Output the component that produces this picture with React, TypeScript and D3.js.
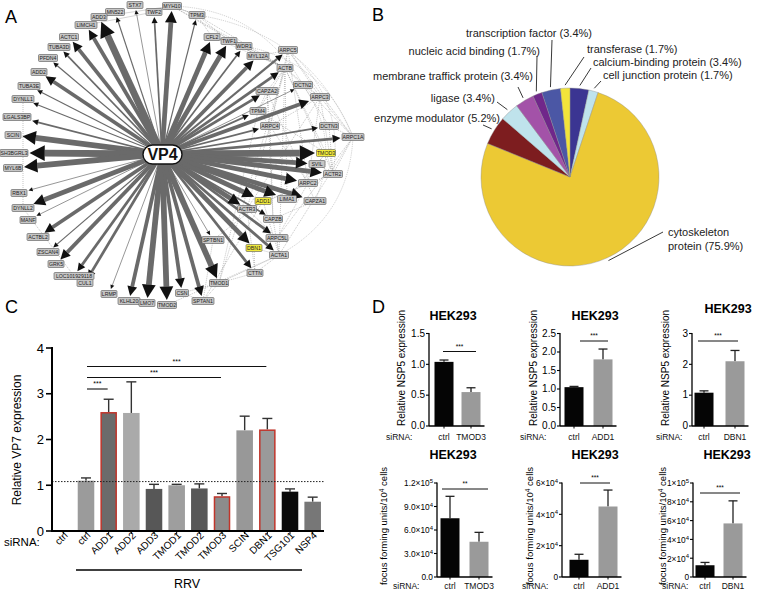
import React from 'react';
import * as d3 from 'd3';

const FONT = "'Liberation Sans', Arial, Helvetica, sans-serif";

// ---------- Panel A: VP4 interaction network ----------
const NODE_NAMES = ["MYH10","STX7","TWF2","MN522","ADD3","LIMCH1","TPM3","ACTC1","CFL2","TWF1","WDR1","TUBA3D","MYL12A","ARPC5","PFDN4","ACTB","ADD2","DCTN2","CAPZA2","TUBA3E","ARPC3","DYNLL1","TPM4","LGALS3BP","ARPC4","DCTN3","SCIN","ARPC1A","SH3BGRL3","TMOD3","MYL6B","SVIL","ACTR2","ARPC2","RBX1","LIMA1","CAPZA1","ADD1","DYNLL2","ACTR3","MANF","CAPZB","ACTBL2","ARPC5L","SPTBN1","DBN1","ZSCAN4","ACTA1","GRK5","CTTN","LOC101929118","CUL1","TMOD1","LRMP","KLHL20","LMO7","TMOD2","CSN","SPTAN1"];
// interaction strength with VP4 (arrow weight)
const EDGE_WEIGHTS = [5,1,2,1.5,7,4,1.5,4,5,5,2,2,4,2.5,1.5,3,4,1,3,1.5,4,1.5,2,2,2,2,6,3,7,7,6,5,5,5,1,5,5,5,5,5,1,2,4,3,1,5,1.5,3,4,3,3,3,6,1,4,6,6,4,4];
const HIGHLIGHTED = ["TMOD3","ADD1","DBN1"];
// node layout as produced by the network layout (x, y)
const NODE_LAYOUT: [number, number][] = [[172,6],[135,5],[154,12],[115,12],[99,17],[86,25],[197,15],[69,37],[212,37],[229,41],[244,46],[59,47],[258,56],[288,50],[48,58],[285,68],[39,72],[303,85],[267,91],[29,86],[320,97],[23,99],[258,111],[17,117],[270,126],[329,126],[13,135],[353,137],[14,153],[326,153],[13,168],[317,164],[333,174],[308,183],[19,193],[287,199],[315,201],[263,201],[23,208],[247,209],[28,220],[273,219],[38,237],[277,238],[213,240],[254,248],[48,252],[279,255],[56,264],[255,273],[74,276],[85,283],[219,283],[109,294],[129,301],[147,303],[167,305],[182,293],[203,301]];
const PROTEIN_LINKS = ["ARPC5-ACTB","ARPC5-ARPC3","ARPC5-ARPC4","ARPC5-ARPC1A","ARPC5-ARPC2","ACTB-ARPC3","ACTB-DCTN2","ACTB-CAPZA2","ACTB-ARPC4","ACTB-TMOD3","ACTB-ACTR2","ACTB-CFL2","ACTB-TWF1","ACTB-WDR1","ACTB-MYL12A","ACTB-TPM3","DCTN2-DCTN3","DCTN2-ARPC1A","CAPZA2-CAPZA1","CAPZA2-CAPZB","CAPZA2-ARPC4","ARPC3-ARPC4","ARPC3-ARPC1A","ARPC3-ACTR2","ARPC3-ARPC2","ARPC3-ACTR3","TPM4-TMOD3","TPM4-TMOD1","TPM4-ACTB","ARPC4-ARPC2","ARPC4-ACTR3","DCTN3-ARPC1A","ARPC1A-ACTR2","ARPC1A-ARPC5L","TMOD3-SVIL","TMOD3-ACTR2","TMOD3-LIMA1","SVIL-ACTR2","ACTR2-ACTR3","ACTR2-ARPC2","ARPC2-ACTR3","ARPC2-ARPC5L","LIMA1-ACTB","CAPZA1-CAPZB","ADD1-SPTBN1","ADD1-SPTAN1","ADD1-ACTA1","ACTR3-ARPC5L","CAPZB-ACTA1","ARPC5L-ACTA1","DBN1-ACTA1","DBN1-CTTN","ACTA1-CTTN","CTTN-TMOD1","TMOD1-SPTAN1","TMOD1-ACTA1","SPTAN1-SPTBN1","CSN-SPTAN1","CSN-TMOD1","ACTA1-TMOD2","TPM3-CFL2","TPM3-TWF1","MYH10-TPM3","MYH10-ACTB","TWF1-ACTB","WDR1-CFL2","MYL12A-MYH10","ARPC5-MYL12A","ACTB-ACTA1","CTTN-ACTR3","ARPC1A-ACTA1","DCTN3-ACTR2","DYNLL1-DYNLL2","DYNLL2-LOC101929118","ACTB-TMOD1","ARPC4-CAPZB","TPM4-ARPC4","CAPZA2-TPM4","DCTN2-ARPC3"];
const CURVED_LINKS = ["TPM3-ARPC1A","WDR1-ARPC1A","ARPC5-ACTR2","DCTN2-CAPZA1","MYH10-DCTN2","ARPC1A-ACTA1"];
const OUTLINE_LINKS = ["LIMCH1-TWF2","ADD3-MYH10","TWF2-MYH10","MYH10-TPM3"];

// ---------- Panel B: protein classes ----------
const PIE_CATEGORIES = ["calcium-binding protein","cell junction protein","cytoskeleton protein","enzyme modulator","ligase","membrane traffick protein","nucleic acid binding","transcription factor","transferase"];
const PIE_VALUES = [3.4,1.7,75.9,5.2,3.4,3.4,1.7,3.4,1.7];

// ---------- Panel C ----------
const C_CATEGORIES = ["ctrl","ctrl","ADD1","ADD2","ADD3","TMOD1","TMOD2","TMOD3","SCIN","DBN1","TSG101","NSP4"];
const C_VALUES = [0,1.1,2.6,2.58,0.92,1.0,0.93,0.76,2.2,2.22,0.86,0.64];
const C_ERRORS = [0,0.06,0.28,0.68,0.1,0.02,0.1,0.06,0.31,0.24,0.06,0.1];
const C_HIGHLIGHT = [2,7,9];
const C_TICKS = [0,1,2,3,4];
const C_REFERENCE = 1.08;
const C_SIG_FROM = [1,1,1];
const C_SIG_TO = [2,7,9];
const C_SIG_TEXT = ["***","***","***"];

// ---------- Panel D ----------
const D_TREATMENTS = ["TMOD3","ADD1","DBN1"];
const D_NSP5_CTRL = [1.04,1.05,1.08];
const D_NSP5_CTRL_ERR = [0.03,0.02,0.06];
const D_NSP5_KD = [0.55,1.8,2.1];
const D_NSP5_KD_ERR = [0.07,0.28,0.35];
const D_NSP5_TICKS = [[0,0.5,1,1.5],[0,0.5,1,1.5,2,2.5],[0,1,2,3]];
const D_NSP5_TICK_LABELS = [["0.0","0.5","1.0","1.5"],["0.0","0.5","1.0","1.5","2.0","2.5"],["0","1","2","3"]];
const D_NSP5_SIG = ["***","***","***"];
const D_FFU_CTRL = [7.5e4,1.1e4,1.25e4];
const D_FFU_CTRL_ERR = [2.8e4,0.35e4,0.3e4];
const D_FFU_KD = [4.5e4,4.5e4,5.7e4];
const D_FFU_KD_ERR = [1.2e4,1.05e4,2.4e4];
const D_FFU_TICKS = [[0,3e4,6e4,9e4,1.2e5],[0,2e4,4e4,6e4],[0,2e4,4e4,6e4,8e4,1e5]];
const D_FFU_TICK_LABELS = [["0.0","3.0×10^4","6.0×10^4","9.0×10^4","1.2×10^5"],["0","2×10^4","4×10^4","6×10^4"],["0","2×10^4","4×10^4","6×10^4","8×10^4","1×10^5"]];
const D_FFU_SIG = ["**","***","***"];

function SupLabel({ text, supDy = -4, ...rest }: any) {
  const [base, exp] = text.split('^');
  return (
    <text {...rest}>
      {base}
      {exp !== undefined && <tspan dy={supDy} fontSize="0.72em">{exp}</tspan>}
    </text>
  );
}

function PanelA() {
  const cx = 162, cy = 154;
  const nodes = NODE_NAMES.map((name, i) => {
    const [x, y] = NODE_LAYOUT[i];
    const w = name.length * 3 + 4, h = 7;
    return { name, x, y, w, h, weight: EDGE_WEIGHTS[i], hi: HIGHLIGHTED.includes(name) };
  });
  const byName = new Map(nodes.map(n => [n.name, n] as [string, typeof nodes[0]]));
  const wScale = d3.scaleLinear().domain([1, 7]).range([0.7, 6.8]);
  const linkPairs = (list: string[]) => list.map(s => {
    const parts = s.split('-');
    return [byName.get(parts[0]), byName.get(parts.slice(1).join('-'))];
  }).filter(p => p[0] && p[1]) as any[];

  const arrows = nodes.map(n => {
    const dx = n.x - cx, dy = n.y - cy;
    const L = Math.hypot(dx, dy);
    const ux = dx / L, uy = dy / L;
    const tBox = Math.min(Math.abs(ux) > 1e-6 ? (n.w / 2) / Math.abs(ux) : 1e9, Math.abs(uy) > 1e-6 ? (n.h / 2) / Math.abs(uy) : 1e9);
    const tipD = L - tBox - 1.5;
    const sw = wScale(n.weight);
    const hl = 3 + sw * 1.8, hw = 1.4 + sw * 0.95;
    const tip = [cx + ux * tipD, cy + uy * tipD];
    const base = [cx + ux * (tipD - hl), cy + uy * (tipD - hl)];
    const px = -uy, py = ux;
    const pts = [tip, [base[0] + px * hw, base[1] + py * hw], [base[0] - px * hw, base[1] - py * hw]];
    return { n, sw, base, pts };
  });

  return (
    <g>
      <text x={5} y={23} fontSize={18} fontFamily={FONT}>A</text>
      {linkPairs(OUTLINE_LINKS).map(([a, b], i) => (
        <line key={'o' + i} x1={a.x} y1={a.y} x2={b.x} y2={b.y} stroke="#c4c4c4" strokeWidth={0.7} />
      ))}
      {linkPairs(PROTEIN_LINKS).map(([a, b], i) => (
        <line key={'l' + i} x1={a.x} y1={a.y} x2={b.x} y2={b.y} stroke="#8a8a8a" strokeWidth={0.5} strokeDasharray="1,1" />
      ))}
      {linkPairs(CURVED_LINKS).map(([a, b], i) => {
        const mx = (a.x + b.x) / 2, my = (a.y + b.y) / 2;
        const dx = b.x - a.x, dy = b.y - a.y;
        const len = Math.hypot(dx, dy);
        let nx = dy / len, ny = -dx / len;
        if (nx < 0) { nx = -nx; ny = -ny; }
        const k = len * 0.28;
        return <path key={'c' + i} d={`M${a.x},${a.y} Q${mx + nx * k},${my + ny * k} ${b.x},${b.y}`} fill="none" stroke="#a0a0a0" strokeWidth={0.5} strokeDasharray="1.2,1" />;
      })}
      {arrows.map((a, i) => (
        <line key={'e' + i} x1={cx} y1={cy} x2={a.base[0]} y2={a.base[1]} stroke="#6a6a6a" strokeWidth={a.sw} />
      ))}
      {arrows.map((a, i) => (
        <polygon key={'h' + i} points={a.pts.map(p => p.join(',')).join(' ')} fill="#111" />
      ))}
      {nodes.map((n, i) => (
        <g key={'n' + i}>
          <rect x={n.x - n.w / 2} y={n.y - n.h / 2} width={n.w} height={n.h} rx={1} fill={n.hi ? '#f2ea3c' : '#c6c6c6'} stroke="#555" strokeWidth={0.6} />
          <text x={n.x} y={n.y + 1.9} fontSize={5.2} textAnchor="middle" fontFamily={FONT} fill="#222">{n.name}</text>
        </g>
      ))}
      <rect x={143} y={145} width={39} height={19} rx={9.5} fill="#fff" stroke="#111" strokeWidth={1.4} />
      <text x={162.5} y={160} fontSize={16} fontWeight="bold" textAnchor="middle" fontFamily={FONT} fill="#111">VP4</text>
    </g>
  );
}

function PanelB() {
  const cx = 570, cy = 177, r = 89;
  const colors = ["#3b3592","#bfe3ec","#ecc934","#7d1d1f","#bfe3ec","#a352a8","#70278a","#4b57a5","#f2e43a"];
  const arcs = d3.pie<number>().sort(null).value(d => d)(PIE_VALUES);
  const arcGen = d3.arc<any>().innerRadius(0).outerRadius(r);
  // label placement: text x,y, anchor, leader outer end
  const layout = [
    { tx: 593, ty: 66, anchor: 'start', ox: 591, oy: 68 },
    { tx: 603, ty: 79, anchor: 'start', ox: 601, oy: 81 },
    { tx: 668, ty: 236, anchor: 'start', ox: 663, oy: 232 },
    { tx: 500, ty: 122, anchor: 'end', ox: 483, oy: 125 },
    { tx: 495, ty: 102, anchor: 'end', ox: 497, oy: 102 },
    { tx: 533, ty: 80, anchor: 'end', ox: 518, oy: 87 },
    { tx: 540, ty: 55, anchor: 'end', ox: 537, oy: 56 },
    { tx: 529, ty: 37, anchor: 'middle', ox: 552, oy: 40 },
    { tx: 587, ty: 53, anchor: 'start', ox: 584, oy: 57 },
  ];
  return (
    <g>
      <text x={372} y={21} fontSize={18} fontFamily={FONT}>B</text>
      <g transform={`translate(${cx},${cy})`}>
        {arcs.map((a, i) => (
          <path key={i} d={arcGen(a) as string} fill={colors[i]} stroke="#8a8a8a" strokeWidth={0.4} />
        ))}
      </g>
      {arcs.map((a, i) => {
        const mid = (a.startAngle + a.endAngle) / 2;
        const rr = r + 3;
        const ix = cx + Math.sin(mid) * rr, iy = cy - Math.cos(mid) * rr;
        const L = layout[i];
        const label = `${PIE_CATEGORIES[i]} (${PIE_VALUES[i]}%)`;
        return (
          <g key={'lb' + i}>
            <line x1={ix} y1={iy} x2={L.ox} y2={L.oy} stroke="#222" strokeWidth={0.9} />
            {i === 2 ? (
              <text x={L.tx} y={L.ty} fontSize={11} fontFamily={FONT} fill="#222">
                <tspan x={L.tx}>cytoskeleton</tspan>
                <tspan x={L.tx} dy={14}>protein ({PIE_VALUES[i]}%)</tspan>
              </text>
            ) : (
              <text x={L.tx} y={L.ty} fontSize={11} textAnchor={L.anchor as any} fontFamily={FONT} fill="#222">{label}</text>
            )}
          </g>
        );
      })}
    </g>
  );
}

function PanelC() {
  const x = d3.scaleBand<number>().domain(d3.range(C_CATEGORIES.length)).range([52, 324]).paddingInner(0.27).paddingOuter(0.135);
  const y = d3.scaleLinear().domain([0, 4]).range([531, 348]);
  const fills = ["#9b9b9b","#9b9b9b","#6b6b6b","#aaaaaa","#575757","#9e9e9e","#585858","#8c8c8c","#989898","#9a9a9a","#0a0a0a","#777777"];
  const bw = x.bandwidth();
  const cxOf = (i: number) => (x(i) as number) + bw / 2;
  const sigY = [389, 377.5, 366.5];
  return (
    <g fontFamily={FONT}>
      <text x={5} y={313} fontSize={18}>C</text>
      {C_VALUES.map((v, i) => v > 0 && (
        <g key={i}>
          <line x1={cxOf(i)} x2={cxOf(i)} y1={y(v)} y2={y(v + C_ERRORS[i])} stroke="#333" strokeWidth={1.4} />
          <line x1={cxOf(i) - 5} x2={cxOf(i) + 5} y1={y(v + C_ERRORS[i])} y2={y(v + C_ERRORS[i])} stroke="#333" strokeWidth={1.4} />
          {C_HIGHLIGHT.includes(i) ? (
            <rect x={(x(i) as number) + 0.75} y={y(v) + 0.75} width={bw - 1.5} height={y(0) - y(v) - 0.75} fill={fills[i]} stroke="#c0352b" strokeWidth={1.5} />
          ) : (
            <rect x={x(i) as number} y={y(v)} width={bw} height={y(0) - y(v)} fill={fills[i]} />
          )}
        </g>
      ))}
      <line x1={52} x2={324} y1={y(C_REFERENCE)} y2={y(C_REFERENCE)} stroke="#222" strokeWidth={1} strokeDasharray="1.5,1.5" />
      <line x1={52} x2={52} y1={y(4) - 1} y2={y(0)} stroke="#000" strokeWidth={2} />
      {C_TICKS.map(t => (
        <g key={t}>
          <line x1={46} x2={52} y1={y(t)} y2={y(t)} stroke="#000" strokeWidth={1.6} />
          <text x={44} y={y(t) + 4.5} fontSize={13} textAnchor="end">{t}</text>
        </g>
      ))}
      <line x1={51} x2={324} y1={y(0)} y2={y(0)} stroke="#000" strokeWidth={2} />
      {C_CATEGORIES.map((c, i) => (
        <g key={'x' + i}>
          <line x1={cxOf(i)} x2={cxOf(i)} y1={y(0)} y2={y(0) + 3} stroke="#000" strokeWidth={1} />
          <text transform={`translate(${cxOf(i) + 5},${536}) rotate(-45)`} fontSize={10} textAnchor="end">{c}</text>
        </g>
      ))}
      <text transform="translate(21,440) rotate(-90)" fontSize={12} textAnchor="middle">Relative VP7 expression</text>
      <text x={4} y={546} fontSize={11.5}>siRNA:</text>
      {C_SIG_FROM.map((f, k) => (
        <g key={'s' + k}>
          <line x1={cxOf(f) + 1} x2={cxOf(C_SIG_TO[k]) - 1} y1={sigY[k]} y2={sigY[k]} stroke="#111" strokeWidth={1.1} />
          <text x={(cxOf(f) + cxOf(C_SIG_TO[k])) / 2} y={sigY[k] - 3} fontSize={7} textAnchor="middle">{C_SIG_TEXT[k]}</text>
        </g>
      ))}
      <line x1={76} x2={302} y1={570} y2={570} stroke="#000" strokeWidth={1.5} />
      <text x={187} y={588} fontSize={12.5} textAnchor="middle">RRV</text>
    </g>
  );
}

function SmallBars(props: any) {
  const { axisX, yTop, yBot, centers, bw, ticks, tickLabels, tickFont, values, errors, labels, title, titleX, titleY, ylabel, sig, sigX1, sigX2, sigY, xLabelY, siX } = props;
  const y = d3.scaleLinear().domain([0, ticks[ticks.length - 1]]).range([yBot, yTop]);
  const fills = ["#050505", "#9a9a9a"];
  const xEnd = centers[1] + bw / 2 + 4;
  return (
    <g fontFamily={FONT}>
      <text x={titleX} y={titleY} fontSize={12.5} fontWeight="bold" textAnchor="middle">{title}</text>
      {values.map((v: number, i: number) => (
        <g key={i}>
          <line x1={centers[i]} x2={centers[i]} y1={y(v)} y2={y(v + errors[i])} stroke="#222" strokeWidth={1.3} />
          <line x1={centers[i] - 4.5} x2={centers[i] + 4.5} y1={y(v + errors[i])} y2={y(v + errors[i])} stroke="#222" strokeWidth={1.3} />
          <rect x={centers[i] - bw / 2} y={y(v)} width={bw} height={yBot - y(v)} fill={fills[i]} />
        </g>
      ))}
      <line x1={axisX} x2={axisX} y1={yTop - 0.5} y2={yBot} stroke="#000" strokeWidth={1.3} />
      <line x1={axisX} x2={xEnd} y1={yBot} y2={yBot} stroke="#000" strokeWidth={1.3} />
      {ticks.map((t: number, i: number) => (
        <g key={'t' + i}>
          <line x1={axisX - 3} x2={axisX} y1={y(t)} y2={y(t)} stroke="#000" strokeWidth={1.1} />
          <SupLabel text={tickLabels[i]} supDy={-3.2} x={axisX - 4} y={y(t) + 3.3} fontSize={tickFont} textAnchor="end" />
        </g>
      ))}
      {centers.map((c: number, i: number) => (
        <line key={'xt' + i} x1={c} x2={c} y1={yBot} y2={yBot + 2.5} stroke="#000" strokeWidth={1} />
      ))}
      {ylabel}
      <text x={siX} y={xLabelY} fontSize={8.5} fill="#111">siRNA:</text>
      {labels.map((l: string, i: number) => (
        <text key={'xl' + i} x={centers[i]} y={xLabelY} fontSize={8.5} textAnchor="middle" fill="#111">{l}</text>
      ))}
      <line x1={sigX1} x2={sigX2} y1={sigY} y2={sigY} stroke="#111" strokeWidth={1} />
      <text x={(sigX1 + sigX2) / 2} y={sigY - 3} fontSize={6.5} textAnchor="middle">{sig}</text>
    </g>
  );
}

function PanelD() {
  const top = [
    { axisX: 429, centers: [444, 471], titleX: 453, ylabelX: 405, siX: 386, sig: [443, 476, 351.5] },
    { axisX: 560, centers: [574, 603], titleX: 595, ylabelX: 537, siX: 520, sig: [580, 608, 341] },
    { axisX: 692, centers: [704, 735], titleX: 728, ylabelX: 669, siX: 656, sig: [698, 738, 341] },
  ];
  const bottom = [
    { axisX: 437, centers: [450, 479], titleX: 453, ylabelX: 387, siX: 393, sig: [442, 488, 489] },
    { axisX: 562, centers: [579, 608], titleX: 595, ylabelX: 533, siX: 522, sig: [580, 610, 483] },
    { axisX: 693, centers: [705, 733], titleX: 727, ylabelX: 666, siX: 662, sig: [700, 740, 493] },
  ];
  return (
    <g>
      <text x={372} y={313} fontSize={18} fontFamily={FONT}>D</text>
      {top.map((L, k) => (
        <SmallBars key={'t' + k}
          axisX={L.axisX} yTop={333.5} yBot={426} centers={L.centers} bw={19}
          ticks={D_NSP5_TICKS[k]} tickLabels={D_NSP5_TICK_LABELS[k]} tickFont={10}
          values={[D_NSP5_CTRL[k], D_NSP5_KD[k]]} errors={[D_NSP5_CTRL_ERR[k], D_NSP5_KD_ERR[k]]}
          labels={["ctrl", D_TREATMENTS[k]]} title="HEK293" titleX={L.titleX} titleY={k === 2 ? 313 : 320}
          ylabel={<text transform={`translate(${L.ylabelX},368) rotate(-90)`} fontSize={10} textAnchor="middle" fontFamily={FONT}>Relative NSP5 expression</text>}
          sig={D_NSP5_SIG[k]} sigX1={L.sig[0]} sigX2={L.sig[1]} sigY={L.sig[2]} xLabelY={440} siX={L.siX} />
      ))}
      {bottom.map((L, k) => (
        <SmallBars key={'b' + k}
          axisX={L.axisX} yTop={483} yBot={577} centers={L.centers} bw={19}
          ticks={D_FFU_TICKS[k]} tickLabels={D_FFU_TICK_LABELS[k]} tickFont={8.3}
          values={[D_FFU_CTRL[k], D_FFU_KD[k]]} errors={[D_FFU_CTRL_ERR[k], D_FFU_KD_ERR[k]]}
          labels={["ctrl", D_TREATMENTS[k]]} title="HEK293" titleX={L.titleX} titleY={459}
          ylabel={<text transform={`translate(${L.ylabelX},526) rotate(-90)`} fontSize={9.5} textAnchor="middle" fontFamily={FONT}>focus forming units/10<tspan dy={-3.5} fontSize={6.5}>4</tspan><tspan dy={3.5}> cells</tspan></text>}
          sig={D_FFU_SIG[k]} sigX1={L.sig[0]} sigX2={L.sig[1]} sigY={L.sig[2]} xLabelY={589} siX={L.siX} />
      ))}
    </g>
  );
}

export default function App() {
  return (
    <svg width={757} height={590} style={{ position: 'absolute', left: 0, top: 0, background: '#fff' }} fontFamily={FONT}>
      <rect width={757} height={590} fill="#fff" />
      <PanelA />
      <PanelB />
      <PanelC />
      <PanelD />
    </svg>
  );
}
